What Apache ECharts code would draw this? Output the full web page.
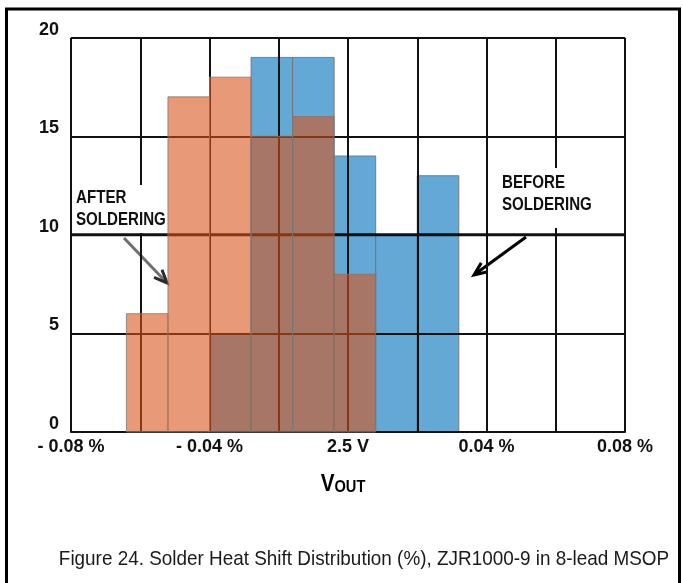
<!DOCTYPE html>
<html>
<head>
<meta charset="utf-8">
<script src="https://cdn.jsdelivr.net/npm/echarts@6/dist/echarts.min.js"></script>
<style>
  html, body { margin: 0; padding: 0; background: #fff; }
  #chart { width: 683px; height: 583px; }
</style>
</head>
<body>
<div id="chart"></div>
<script>
// Histogram bins of V_OUT shift, in units of 0.01 % (bin edges).
const binEdges = [-6.4, -5.2, -4.0, -2.8, -1.6, -0.4, 0.8, 2.0, 3.2];
// Unit counts per bin (%).
const afterSoldering  = [6, 17, 18, 15, 16, 8, 0, 0];
const beforeSoldering = [0, 0, 5, 19, 19, 14, 10, 13];
// X-axis tick labels (value in 0.01 % -> text).
const xTickValues = [-8, -4, 0, 4, 8];
const xTickLabels = ['- 0.08 %', '- 0.04 %', '2.5 V', '0.04 %', '0.08 %'];
const yTicks = [0, 5, 10, 15, 20];

const FONT = '"Liberation Sans", Arial, sans-serif';
const INK = '#111';

function binData(values) {
  return values.map((v, i) => [binEdges[i], binEdges[i + 1], v]);
}

function histRender(fill, stroke) {
  return function (params, api) {
    const v = api.value(2);
    if (!v) return null;
    const p0 = api.coord([api.value(0), v]);
    const p1 = api.coord([api.value(1), 0]);
    return {
      type: 'rect',
      shape: { x: p0[0], y: p0[1], width: p1[0] - p0[0], height: p1[1] - p0[1] },
      style: { fill: fill, stroke: stroke, lineWidth: 1 }
    };
  };
}

function arrow(x0, y0, x1, y1, shaftColor, headColor, width) {
  const dx = x1 - x0, dy = y1 - y0;
  const len = Math.sqrt(dx * dx + dy * dy);
  const ux = dx / len, uy = dy / len;
  const hl = 13, hw = 5.5;
  const bx = x1 - ux * hl, by = y1 - uy * hl;
  return {
    type: 'group',
    z: 12,
    children: [
      { type: 'line', shape: { x1: x0, y1: y0, x2: x1 - ux * 2, y2: y1 - uy * 2 },
        style: { stroke: shaftColor, lineWidth: width } },
      { type: 'polyline',
        shape: { points: [[bx - uy * hw, by + ux * hw], [x1, y1], [bx + uy * hw, by - ux * hw]] },
        style: { stroke: headColor, lineWidth: width, fill: null, lineJoin: 'miter' } }
    ]
  };
}

function note(x, y, text) {
  return {
    type: 'text', z: 11, x: x, y: y, scaleX: 0.84,
    style: { text: text, x: 0, y: 0, fontFamily: FONT, fontWeight: 'bold', fontSize: 18,
             lineHeight: 22, fill: INK }
  };
}

const chart = echarts.init(document.getElementById('chart'), null, { renderer: 'canvas' });

const option = {
  animation: false,
  backgroundColor: '#fff',
  grid: { left: 71, right: 58, top: 37.7, bottom: 151, containLabel: false },
  xAxis: {
    type: 'value',
    min: -8, max: 8, interval: 2,
    z: 1,
    axisLine: { show: true, onZero: false, lineStyle: { color: INK, width: 2 } },
    axisTick: { show: false },
    splitLine: { show: true, lineStyle: { color: INK, width: 2 } },
    axisLabel: {
      margin: 6,
      fontFamily: FONT, fontWeight: 'bold', fontSize: 18, color: INK,
      formatter: function (val) {
        const i = xTickValues.indexOf(Math.round(val));
        return i >= 0 ? xTickLabels[i] : '';
      }
    }
  },
  yAxis: {
    type: 'value',
    min: 0, max: 20, interval: 5,
    z: 1,
    axisLine: { show: false },
    axisTick: { show: false },
    splitLine: { show: true, lineStyle: { color: INK, width: 2 } },
    axisLabel: {
      margin: 12,
      verticalAlign: 'bottom',
      lineHeight: 16,
      fontFamily: FONT, fontWeight: 'bold', fontSize: 18, color: INK,
      formatter: function (val) {
        return yTicks.indexOf(Math.round(val)) >= 0 ? String(Math.round(val)) : '';
      }
    }
  },
  series: [
    {
      name: 'Before Soldering',
      type: 'custom',
      z: 0,
      silent: true,
      renderItem: histRender('#64A8D6', 'rgba(110,110,110,0.85)'),
      encode: { x: [0, 1], y: 2 },
      data: binData(beforeSoldering)
    },
    {
      name: 'Reference 10',
      type: 'line',
      z: 1.5,
      silent: true,
      symbol: 'none',
      lineStyle: { color: INK, width: 3 },
      data: [[-8, 10], [8, 10]]
    },
    {
      name: 'After Soldering',
      type: 'custom',
      z: 2,
      silent: true,
      renderItem: histRender('rgba(216,84,26,0.59)', 'rgba(120,120,120,0.8)'),
      encode: { x: [0, 1], y: 2 },
      data: binData(afterSoldering)
    }
  ],
  graphic: [
    // outer frame
    { type: 'rect', z: 20, shape: { x: 6.5, y: 9, width: 673, height: 620 },
      style: { fill: null, stroke: '#000', lineWidth: 3 } },
    // annotation boxes
    { type: 'rect', z: 10, shape: { x: 72, y: 185, width: 95, height: 48 }, style: { fill: '#fff' } },
    note(76, 187, 'AFTER\nSOLDERING'),
    { type: 'rect', z: 10, shape: { x: 498, y: 168, width: 100, height: 60 }, style: { fill: '#fff' } },
    note(502, 172, 'BEFORE\nSOLDERING'),
    arrow(124, 238, 167, 283, '#707070', '#2a2a2a', 3),
    arrow(526, 237, 474, 275, '#000', '#000', 3),
    // axis title V_OUT
    { type: 'text', z: 11, x: 343, y: 472, scaleX: 0.86,
      style: { text: '{v|V}{o|OUT}', x: 0, y: 0, align: 'center', verticalAlign: 'top',
        rich: {
          v: { fontFamily: FONT, fontWeight: 'bold', fontSize: 24, color: INK, verticalAlign: 'bottom' },
          o: { fontFamily: FONT, fontWeight: 'bold', fontSize: 17, color: INK, verticalAlign: 'bottom' }
        } } },
    // caption
    { type: 'text', z: 11, x: 364, y: 559, scaleX: 0.9,
      style: { text: 'Figure 24. Solder Heat Shift Distribution (%), ZJR1000-9 in 8-lead MSOP', x: 0, y: 0,
               fontFamily: FONT, fontSize: 21, fill: '#1a1a1a', align: 'center', verticalAlign: 'middle' } }
  ]
};

chart.setOption(option);
</script>
</body>
</html>
